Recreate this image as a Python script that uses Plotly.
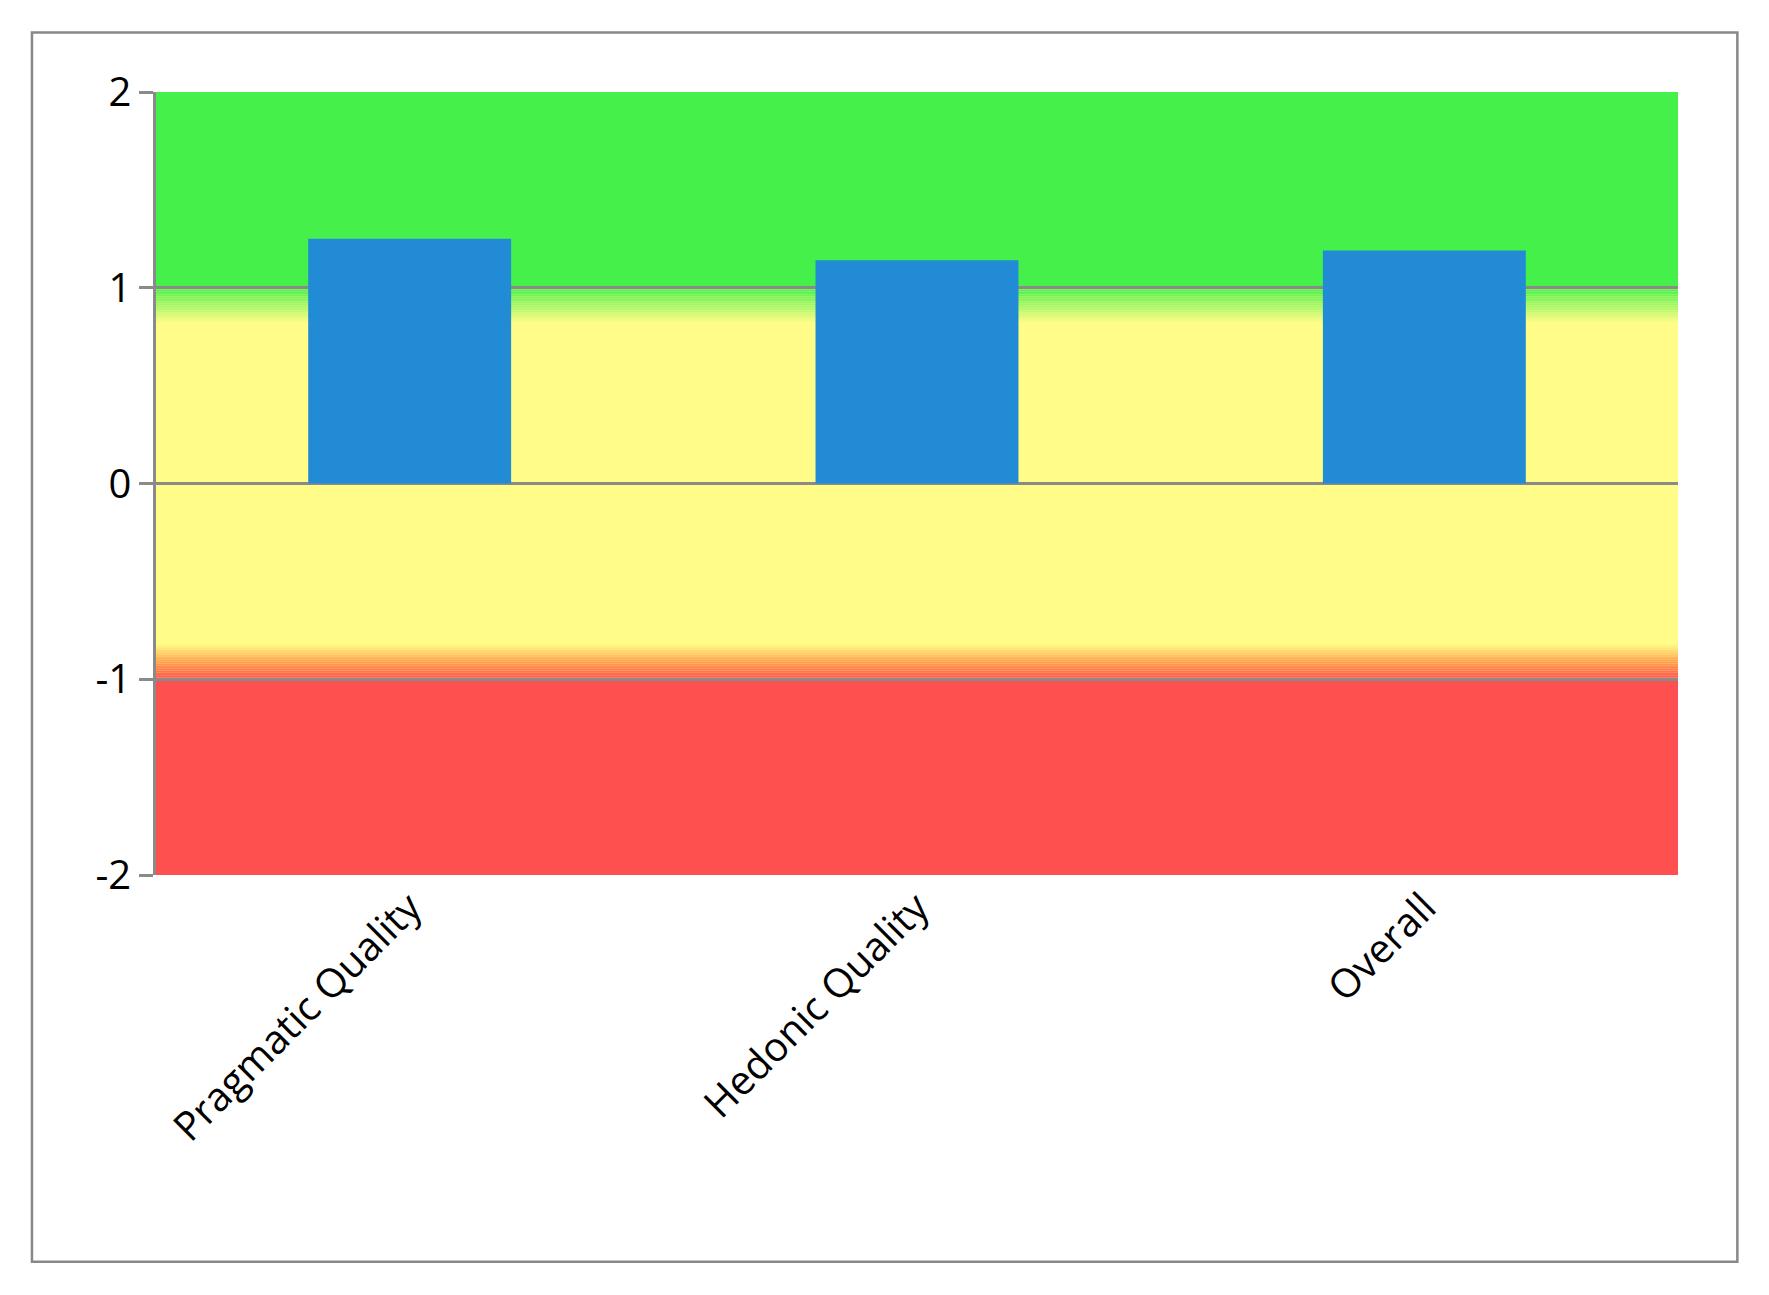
import plotly.graph_objects as go

categories = ["Pragmatic Quality", "Hedonic Quality", "Overall"]
values = [1.25, 1.14, 1.19]
y_ticks = [-2, -1, 0, 1, 2]
y_tick_text = ["-2", "-1", "0", "1", "2"]

GREEN = (70, 240, 75)
YELLOW = (255, 253, 136)
RED = (255, 80, 80)
ORANGE = (255, 160, 80)

def mix(a, b, t):
    return "rgb(%d,%d,%d)" % tuple(round(a[i] + (b[i] - a[i]) * t) for i in range(3))

shapes = []
shapes.append(dict(type="rect", xref="paper", yref="y", x0=0, x1=1, y0=1, y1=2,
                   fillcolor=mix(GREEN, GREEN, 0), line_width=0, layer="below"))
shapes.append(dict(type="rect", xref="paper", yref="y", x0=0, x1=1, y0=-2, y1=-1,
                   fillcolor=mix(RED, RED, 0), line_width=0, layer="below"))
n = 20
for i in range(n):
    y1 = 1 - 0.18 * i / n
    y0 = 1 - 0.18 * (i + 1) / n
    shapes.append(dict(type="rect", xref="paper", yref="y", x0=0, x1=1, y0=y0, y1=y1,
                       fillcolor=mix(GREEN, YELLOW, (i + 0.5) / n), line_width=0, layer="below"))
for i in range(n):
    y1 = -0.82 - 0.18 * i / n
    y0 = -0.82 - 0.18 * (i + 1) / n
    t = (i + 0.5) / n
    c = mix(YELLOW, ORANGE, t * 2) if t < 0.5 else mix(ORANGE, RED, (t - 0.5) * 2)
    shapes.append(dict(type="rect", xref="paper", yref="y", x0=0, x1=1, y0=y0, y1=y1,
                       fillcolor=c, line_width=0, layer="below"))
shapes.append(dict(type="rect", xref="paper", yref="paper", x0=-0.0815, x1=1.039, y0=-0.494, y1=1.076,
                   line=dict(color="#888888", width=2.5), fillcolor="rgba(0,0,0,0)"))

fig = go.Figure(go.Bar(x=categories, y=values, marker_color="#218BD6", width=0.4,
                       marker_line_width=0))
fig.update_layout(
    width=1769, height=1295,
    margin=dict(l=148, r=99, t=84, b=428),
    paper_bgcolor="white", plot_bgcolor="rgb(255,253,136)",
    shapes=shapes, showlegend=False,
    font=dict(family="Open Sans, sans-serif", size=40, color="black"),
)
fig.update_yaxes(range=[-2, 2], tickvals=y_ticks, ticktext=y_tick_text, showgrid=True,
                 gridcolor="#8a8a8a", gridwidth=2.5,
                 showline=True, linecolor="#8a8a8a", linewidth=2.5, ticks="outside",
                 ticklen=14, tickcolor="#8a8a8a", tickwidth=2.5, zeroline=False, layer="above traces")
fig.update_xaxes(tickangle=-45, showline=False, ticks="", showgrid=False)
fig.write_html("out.html")
